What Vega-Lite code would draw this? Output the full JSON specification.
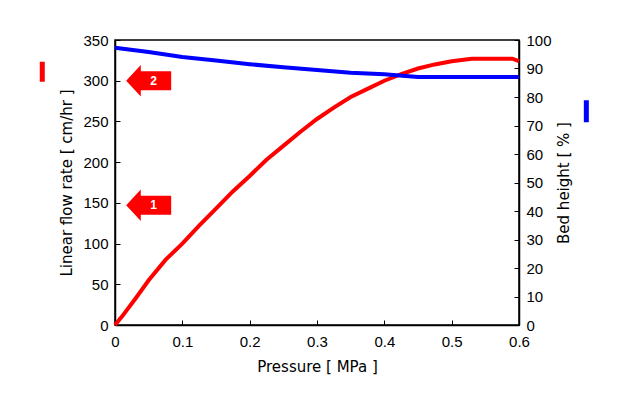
{
  "$schema": "https://vega.github.io/schema/vega-lite/v6.json",
  "autosize": "none",
  "width": 404,
  "height": 285,
  "padding": {"left": 115, "top": 40, "right": 106, "bottom": 88},
  "background": "white",
  "datasets": {
    "flow": [
      {"p": 0, "v": 0}, {"p": 0.01, "v": 10}, {"p": 0.03, "v": 32}, {"p": 0.05, "v": 55},
      {"p": 0.075, "v": 80}, {"p": 0.1, "v": 100}, {"p": 0.125, "v": 122}, {"p": 0.15, "v": 143},
      {"p": 0.175, "v": 164}, {"p": 0.2, "v": 183}, {"p": 0.225, "v": 203}, {"p": 0.25, "v": 220},
      {"p": 0.275, "v": 237}, {"p": 0.3, "v": 253}, {"p": 0.325, "v": 267}, {"p": 0.35, "v": 280},
      {"p": 0.375, "v": 290}, {"p": 0.4, "v": 300}, {"p": 0.425, "v": 308}, {"p": 0.45, "v": 315},
      {"p": 0.475, "v": 320}, {"p": 0.5, "v": 324}, {"p": 0.53, "v": 327}, {"p": 0.59, "v": 327},
      {"p": 0.6, "v": 324}
    ],
    "bed": [
      {"p": 0, "h": 97.3}, {"p": 0.05, "h": 95.8}, {"p": 0.1, "h": 94}, {"p": 0.15, "h": 92.8},
      {"p": 0.2, "h": 91.5}, {"p": 0.25, "h": 90.4}, {"p": 0.3, "h": 89.5}, {"p": 0.35, "h": 88.5},
      {"p": 0.4, "h": 88}, {"p": 0.45, "h": 87}, {"p": 0.6, "h": 87}
    ],
    "arrows": [{"p": 0.05, "v": 300, "label": "2"}, {"p": 0.05, "v": 147, "label": "1"}]
  },
  "layer": [
    {
      "layer": [
        {
          "data": {"name": "flow"},
          "mark": {"type": "line", "color": "#ff0000", "strokeWidth": 4},
          "encoding": {
            "x": {"field": "p", "type": "quantitative"},
            "y": {"field": "v", "type": "quantitative"}
          }
        },
        {
          "data": {"name": "arrows"},
          "mark": {"type": "point", "filled": true, "color": "#ff0000", "opacity": 1, "size": 2025,
            "shape": "M-1,0L-0.35,-0.7L-0.35,-0.42L1,-0.42L1,0.42L-0.35,0.42L-0.35,0.7Z"},
          "encoding": {
            "x": {"field": "p", "type": "quantitative"},
            "y": {"field": "v", "type": "quantitative"}
          }
        },
        {
          "data": {"name": "arrows"},
          "mark": {"type": "text", "color": "white", "fontWeight": "bold", "fontSize": 12, "dx": 5, "font": "Liberation Sans"},
          "encoding": {
            "x": {"field": "p", "type": "quantitative"},
            "y": {"field": "v", "type": "quantitative"},
            "text": {"field": "label"}
          }
        },
        {
          "data": {"values": [{"p": -0.108, "v": 311}]},
          "mark": {"type": "point", "clip": false, "shape": "M0,-1L0,1", "size": 400, "stroke": "#ff0000", "strokeWidth": 5, "opacity": 1},
          "encoding": {
            "x": {"field": "p", "type": "quantitative", "scale": {"domain": [0, 0.6], "nice": false},
              "axis": {"title": "Pressure [ MPa ]", "values": [0, 0.1, 0.2, 0.3, 0.4, 0.5, 0.6], "format": ".1~f", "tickSize": -5, "labelPadding": 14, "titlePadding": 10}},
            "y": {"field": "v", "type": "quantitative", "scale": {"domain": [0, 350]},
              "axis": {"title": "Linear flow rate [ cm/hr ]", "values": [0, 50, 100, 150, 200, 250, 300, 350], "tickSize": -5, "labelPadding": 12, "titlePadding": 8}}
          }
        }
      ]
    },
    {
      "encoding": {
        "x": {"field": "p", "type": "quantitative"},
        "y": {"field": "h", "type": "quantitative", "scale": {"domain": [0, 100]},
          "axis": {"orient": "right", "title": "Bed height [ % ]", "titleAngle": 270, "values": [0, 10, 20, 30, 40, 50, 60, 70, 80, 90, 100], "tickCount": 11, "labelOverlap": false, "tickSize": -5, "labelPadding": 12, "titlePadding": 20}}
      },
      "layer": [
        {
          "data": {"name": "bed"},
          "mark": {"type": "line", "color": "#0000ff", "strokeWidth": 4}
        },
        {
          "data": {"values": [{"p": 0.7, "h": 75}]},
          "mark": {"type": "point", "clip": false, "shape": "M0,-1L0,1", "size": 484, "stroke": "#0000ff", "strokeWidth": 5, "opacity": 1}
        }
      ]
    }
  ],
  "resolve": {"scale": {"y": "independent"}},
  "config": {
    "font": "Liberation Sans",
    "view": {"stroke": "black", "strokeWidth": 1.5},
    "axis": {"grid": false, "domainColor": "black", "tickColor": "black", "labelColor": "black", "titleColor": "black",
      "labelFontSize": 15, "titleFontSize": 15, "titleFont": "DejaVu Sans", "titleFontWeight": "normal", "domainWidth": 1.5,
      "labelFlush": false, "labelOverlap": false}
  }
}
